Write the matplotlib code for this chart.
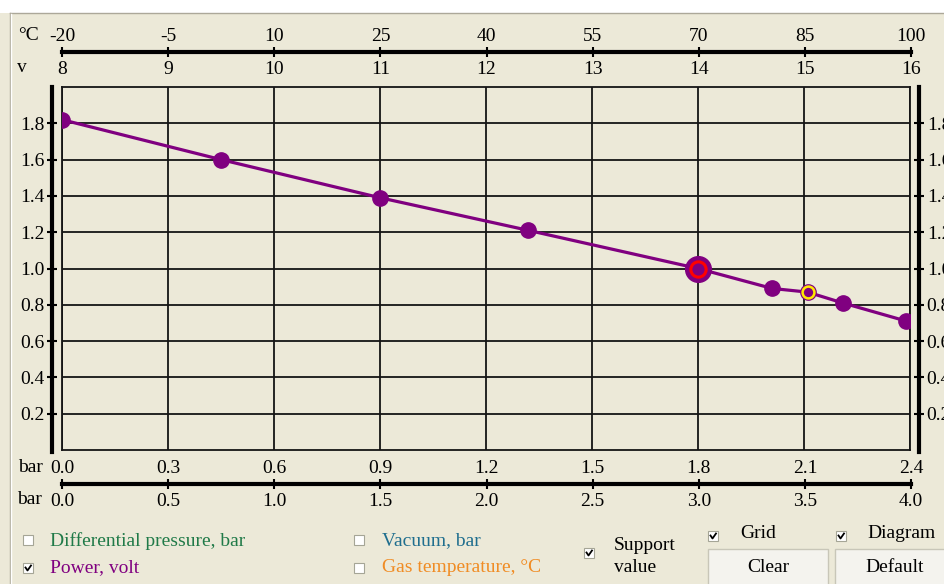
import matplotlib.pyplot as plt
from matplotlib.patches import Rectangle
from matplotlib.lines import Line2D

# values
pressure_bar = [0.0, 0.45, 0.9, 1.32, 1.8, 2.01, 2.11, 2.21, 2.39]
power_volt = [1.82, 1.60, 1.39, 1.21, 1.00, 0.89, 0.87, 0.81, 0.71]
selected_idx = 4
support_idx = 6

temp_ticks = [-20, -5, 10, 25, 40, 55, 70, 85, 100]
volt_ticks = [8, 9, 10, 11, 12, 13, 14, 15, 16]
bar1_ticks = [0.0, 0.3, 0.6, 0.9, 1.2, 1.5, 1.8, 2.1, 2.4]
bar2_ticks = [0.0, 0.5, 1.0, 1.5, 2.0, 2.5, 3.0, 3.5, 4.0]
y_ticks = [0.2, 0.4, 0.6, 0.8, 1.0, 1.2, 1.4, 1.6, 1.8]

BG = '#ECE9D8'
PURPLE = '#800080'
W, H = 944, 584
plt.rcParams['font.family'] = ['Liberation Serif', 'DejaVu Serif']
FS = 14

fig = plt.figure(figsize=(W / 100, H / 100), dpi=100, facecolor=BG)


def fx(px):
    return px / W


def fy(py):
    return 1 - py / H


# white strip above the group frame
fig.add_artist(Rectangle((0, fy(13)), 1, 1 - fy(13), transform=fig.transFigure,
                         facecolor='white', edgecolor='none'))
fig.add_artist(Line2D([fx(10), 1], [fy(13), fy(13)], transform=fig.transFigure,
                      color='#ACA899', lw=1))
fig.add_artist(Line2D([fx(10), fx(10)], [0, fy(13)], transform=fig.transFigure,
                      color='#ACA899', lw=1))
fig.add_artist(Line2D([fx(11), fx(11)], [0, fy(14)], transform=fig.transFigure,
                      color='white', lw=1))

# main plot area
L, R, T, B = 62, 910, 87, 450
ax = fig.add_axes([fx(L), fy(B), fx(R - L), (B - T) / H])
ax.set_facecolor(BG)
ax.set_xlim(0, 2.4)
ax.set_ylim(0, 2.0)
ax.set_xticks(bar1_ticks)
ax.set_yticks(y_ticks)
ax.tick_params(length=0, labelbottom=False, labelleft=False)
ax.grid(True, color='#151515', lw=1.3)
for s in ax.spines.values():
    s.set_color('#151515')
    s.set_linewidth(1.3)

ax.plot(pressure_bar, power_volt, color=PURPLE, lw=2.3, marker='o', ms=11,
        mec=PURPLE, mfc=PURPLE, zorder=3)
ax.plot(pressure_bar[selected_idx], power_volt[selected_idx], 'o', ms=18.5,
        color=PURPLE, zorder=4)
ax.plot(pressure_bar[selected_idx], power_volt[selected_idx], 'o', ms=11,
        mfc=PURPLE, mec='red', mew=2.2, zorder=5)
ax.plot(pressure_bar[support_idx], power_volt[support_idx], 'o', ms=8.5,
        mfc=PURPLE, mec='#FFE800', mew=1.8, zorder=5)

# thick side axes
for xpx, side in [(52, 'left'), (919, 'right')]:
    sa = fig.add_axes([fx(xpx), fy(452), 1e-4, (452 - T) / H])
    sa.patch.set_visible(False)
    sa.set_ylim(-2.0 * (452 - B) / (B - T), 2.0)
    for k, s in sa.spines.items():
        s.set_visible(k == side)
    sa.spines[side].set_linewidth(3)
    sa.set_xticks([])
    sa.set_yticks(y_ticks)
    sa.set_yticklabels([f'{v:.1f}' for v in y_ticks], fontsize=FS)
    sa.yaxis.set_ticks_position(side)
    sa.tick_params(axis='y', direction='inout', length=7, width=1.5, pad=2)


def hscale(ypx, ticks, labels_above, labels_below, unit_above, unit_below):
    ha = fig.add_axes([fx(L), fy(ypx), fx(911 - L), 1e-4])
    ha.patch.set_visible(False)
    for k, s in ha.spines.items():
        s.set_visible(k == 'bottom')
    ha.spines['bottom'].set_linewidth(3)
    ha.set_yticks([])
    ha.set_xlim(ticks[0], ticks[-1])
    ha.set_xticks(ticks)
    ha.tick_params(axis='x', direction='inout', length=7, width=1.5,
                   labelsize=FS, top=False, pad=3)
    ha.set_xticklabels(labels_below)
    ha2 = ha.twiny()
    ha2.patch.set_visible(False)
    for s in ha2.spines.values():
        s.set_visible(False)
    ha2.set_xlim(ticks[0], ticks[-1])
    ha2.set_xticks(ticks)
    ha2.set_xticklabels(labels_above)
    ha2.tick_params(axis='x', length=0, labelsize=FS, pad=5)
    fig.text(fx(18), fy(ypx - 17), unit_above, fontsize=FS, va='center')
    fig.text(fx(17), fy(ypx + 16), unit_below, fontsize=FS, va='center')


hscale(52, temp_ticks, [str(v) for v in temp_ticks],
       [str(v) for v in volt_ticks], '°C', 'v')
hscale(484, bar1_ticks, [f'{v:.1f}' for v in bar1_ticks],
       [f'{v:.1f}' for v in bar2_ticks], 'bar', 'bar')


# checkboxes and buttons below the chart
def checkbox(x, y, checked):
    fig.add_artist(Rectangle((fx(x), fy(y + 10)), fx(10), 10 / H,
                             transform=fig.transFigure, facecolor='white',
                             edgecolor='#A5A596', lw=0.8))
    if checked:
        fig.add_artist(Line2D([fx(x + 2.5), fx(x + 4.5), fx(x + 8)],
                              [fy(y + 4.5), fy(y + 7.5), fy(y + 2.5)],
                              transform=fig.transFigure, color='black', lw=1.3))


checkbox(23, 535, False)
fig.text(fx(50), fy(541), 'Differential pressure, bar', fontsize=FS,
         color='#207A48', va='center')
checkbox(23, 563, True)
fig.text(fx(50), fy(568), 'Power, volt', fontsize=FS, color=PURPLE, va='center')
checkbox(354, 535, False)
fig.text(fx(382), fy(541), 'Vacuum, bar', fontsize=FS, color='#1F6E8E', va='center')
checkbox(354, 563, False)
fig.text(fx(382), fy(568), 'Gas temperature, °C', fontsize=FS, color='#F08C24',
         va='center')
checkbox(584, 548, True)
fig.text(fx(614), fy(545), 'Support', fontsize=FS, va='center')
fig.text(fx(614), fy(567), 'value', fontsize=FS, va='center')
checkbox(708, 531, True)
fig.text(fx(740), fy(533), 'Grid', fontsize=FS, va='center')
checkbox(836, 531, True)
fig.text(fx(867), fy(533), 'Diagram', fontsize=FS, va='center')

for x0, x1, xc, label in [(708, 828, 768, 'Clear'), (835, 960, 895, 'Default')]:
    fig.add_artist(Rectangle((fx(x0), fy(600)), fx(x1 - x0), 51 / H,
                             transform=fig.transFigure, facecolor='#F4F3EE',
                             edgecolor='#C8C6B8', lw=1))
    fig.text(fx(xc), fy(568), label, fontsize=FS, ha='center', va='center')

fig.savefig('out.png', dpi=100, facecolor=BG)
